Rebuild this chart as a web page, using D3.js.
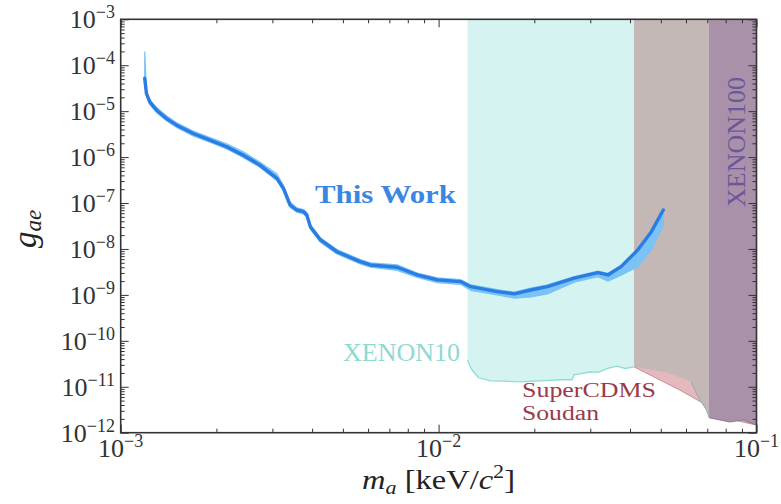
<!DOCTYPE html>
<html>
<head>
<meta charset="utf-8">
<script src="https://cdn.jsdelivr.net/npm/d3@7"></script>
<style>
  html, body { margin: 0; padding: 0; background: #fff; }
  svg { display: block; }
</style>
</head>
<body>
<svg id="chart" width="781" height="504"></svg>
<script>
// ---------------- data ----------------
// "This Work" limit curve
const massThisWork = [1.19e-3, 1.205e-3, 1.234e-3, 1.297e-3, 1.393e-3, 1.50e-3, 1.69e-3, 1.91e-3, 2.155e-3, 2.43e-3,
  2.74e-3, 3.10e-3, 3.25e-3, 3.41e-3, 3.58e-3, 3.76e-3, 3.85e-3, 3.95e-3, 4.25e-3, 4.79e-3,
  5.67e-3, 6.10e-3, 7.41e-3, 8.57e-3, 9.91e-3, 1.173e-2, 1.262e-2, 1.53e-2, 1.73e-2, 1.95e-2,
  2.20e-2, 2.67e-2, 3.17e-2, 3.41e-2, 3.75e-2, 4.23e-2, 4.67e-2, 5.09e-2];
const gThisWork = [5.2e-5, 2.43e-5, 1.59e-5, 1.05e-5, 6.9e-6, 4.96e-6, 3.27e-6, 2.34e-6, 1.68e-6, 1.10e-6,
  6.7e-7, 3.44e-7, 2.09e-7, 9.06e-8, 7.05e-8, 6.47e-8, 5.48e-8, 3.05e-8, 1.57e-8, 8.7e-9,
  5.3e-9, 4.49e-9, 4.0e-9, 2.72e-9, 2.12e-9, 1.95e-9, 1.51e-9, 1.18e-9, 1.05e-9, 1.28e-9,
  1.51e-9, 2.31e-9, 3.05e-9, 2.72e-9, 4.12e-9, 9.5e-9, 2.38e-8, 7.05e-8];
const gBandLow = [5.2e-5, 2.2e-5, 1.4e-5, 9.3e-6, 6.2e-6, 4.4e-6, 2.9e-6, 2.1e-6, 1.5e-6, 9.8e-7,
  6.0e-7, 3.1e-7, 1.85e-7, 8.0e-8, 6.3e-8, 5.8e-8, 4.9e-8, 2.7e-8, 1.4e-8, 7.8e-9,
  4.7e-9, 4.0e-9, 3.4e-9, 2.4e-9, 1.85e-9, 1.7e-9, 1.25e-9, 1.0e-9, 8.5e-10, 9.0e-10,
  1.05e-9, 1.9e-9, 2.5e-9, 2.0e-9, 2.7e-9, 4.1e-9, 9.5e-9, 3.3e-8];
const gBandHigh = [2.0e-4, 2.7e-5, 1.75e-5, 1.2e-5, 8.0e-6, 5.6e-6, 3.7e-6, 2.65e-6, 1.95e-6, 1.3e-6,
  7.8e-7, 4.3e-7, 2.4e-7, 1.05e-7, 7.9e-8, 7.2e-8, 6.2e-8, 3.4e-8, 1.75e-8, 9.7e-9,
  5.9e-9, 5.0e-9, 4.5e-9, 3.0e-9, 2.35e-9, 2.15e-9, 1.65e-9, 1.3e-9, 1.15e-9, 1.4e-9,
  1.65e-9, 2.5e-9, 3.3e-9, 2.95e-9, 4.4e-9, 1.0e-8, 2.5e-8, 7.5e-8];

// XENON10 excluded region (lower boundary)
const massXenon10 = [0.01234, 0.01253, 0.01280, 0.01336, 0.01458, 0.01815, 0.02427, 0.0263, 0.02667, 0.0302, 0.0318, 0.0340, 0.0364, 0.0386, 0.0412];
const gXenon10 = [3.86e-11, 2.86e-11, 2.23e-11, 1.57e-11, 1.35e-11, 1.28e-11, 1.42e-11, 1.42e-11, 1.82e-11, 2.12e-11, 2.05e-11, 2.5e-11, 2.8e-11, 2.5e-11, 2.72e-11];

// SuperCDMS Soudan (pink lower edge)
const massCDMSEdge = [0.0412, 0.0579, 0.0815, 0.0897, 0.1];
const gCDMSEdge = [2.72e-11, 8.2e-12, 2.12e-12, 1.73e-12, 1.47e-12];

// grey region (upper part of SuperCDMS Soudan)
const massCDMS = [0.0412, 0.0527, 0.0623, 0.0655, 0.0696, 0.0711];
const gCDMS = [2.72e-11, 2.01e-11, 1.29e-11, 6.07e-12, 3.16e-12, 2.12e-12];

// XENON100 excluded region
const massXenon100 = [0.0709, 0.0825, 0.0907, 0.1];
const gXenon100 = [2.12e-12, 1.71e-12, 1.89e-12, 1.47e-12];

// axis ticks
const xTickExponents = [-3, -2, -1];
const yTickExponents = [-12, -11, -10, -9, -8, -7, -6, -5, -4, -3];

// ---------------- drawing ----------------
const FONT = "Liberation Serif";
const svg = d3.select("#chart");
const pLeft = 120.7, pRight = 756.5, pTop = 19.3, pBottom = 432.7;
const x = d3.scaleLog().domain([1e-3, 1e-1]).range([pLeft, pRight]);
const y = d3.scaleLog().domain([1e-12, 1e-3]).range([pBottom, pTop]);
const gTop = 1e-3;

function zipPts(ms, gs) { return ms.map((m, i) => ({ m: m, g: gs[i] })); }

const regionArea = d3.area().x(d => x(d.m)).y0(y(gTop)).y1(d => y(d.g));
const edgeLine = d3.line().x(d => x(d.m)).y(d => y(d.g));

const gReg = svg.append("g");
// XENON10
gReg.append("path").attr("d", regionArea(zipPts(massXenon10, gXenon10)))
  .attr("fill", "#d4f3f1");
gReg.append("path").attr("d", edgeLine(zipPts(massXenon10, gXenon10)))
  .attr("fill", "none").attr("stroke", "#92dcd5").attr("stroke-width", 1.3);
// SuperCDMS pink
gReg.append("path").attr("d", regionArea(zipPts(massCDMSEdge, gCDMSEdge)))
  .attr("fill", "#e5b8be");
gReg.append("path").attr("d", edgeLine(zipPts(massCDMSEdge, gCDMSEdge)))
  .attr("fill", "none").attr("stroke", "#c98e98").attr("stroke-width", 1);
// grey
gReg.append("path").attr("d", regionArea(zipPts(massCDMS, gCDMS)))
  .attr("fill", "#c3b8b6");
gReg.append("path").attr("d", edgeLine(zipPts(massCDMS, gCDMS).slice(2)))
  .attr("fill", "none").attr("stroke", "#9fb0b6").attr("stroke-width", 1.3);
// XENON100
gReg.append("path").attr("d", regionArea(zipPts(massXenon100, gXenon100)))
  .attr("fill", "#a891a9");
gReg.append("path").attr("d", edgeLine(zipPts(massXenon100, gXenon100)))
  .attr("fill", "none").attr("stroke", "#8a7a95").attr("stroke-width", 1);

// This Work band + line
const band = d3.area().x(d => x(d.m)).y0(d => y(d.lo)).y1(d => y(d.hi));
const bandPts = massThisWork.map((m, i) => ({ m: m, lo: gBandLow[i], hi: gBandHigh[i] }));
svg.append("path").attr("d", band(bandPts))
  .attr("fill", "#79c3f6").attr("stroke", "#79c3f6").attr("stroke-width", 1.2);
svg.append("path").attr("d", edgeLine(zipPts(massThisWork, gThisWork)))
  .attr("fill", "none").attr("stroke", "#2a7de3").attr("stroke-width", 3.4)
  .attr("stroke-linejoin", "round").attr("stroke-linecap", "round");

// labels
function label(xp, yp, str, size, col, len, extra) {
  const t = svg.append("text").attr("x", xp).attr("y", yp).text(str)
    .style("font-family", FONT).attr("font-size", size).attr("fill", col)
    .attr("textLength", len).attr("lengthAdjust", "spacingAndGlyphs");
  if (extra) extra(t);
  return t;
}
label(315, 203, "This Work", 26, "#3b86e3", 141, t => t.attr("font-weight", "bold"));
label(343, 361, "XENON10", 25, "#8fd9d3", 117);
label(522, 397, "SuperCDMS", 20, "#9b3a4a", 134);
label(522, 419.5, "Soudan", 20, "#9b3a4a", 77);
label(0, 0, "XENON100", 25, "#6b579b", 130, t => t.attr("transform", "translate(745,207) rotate(-90)"));

// axes ticks (inward, all four sides)
function logMinor(e0, e1) {
  const out = [];
  for (let e = e0; e < e1; e++) for (let k = 2; k <= 9; k++) out.push(k * Math.pow(10, e));
  return out;
}
const xMajor = xTickExponents.map(e => Math.pow(10, e));
const yMajor = yTickExponents.map(e => Math.pow(10, e));
const xMinor = logMinor(-3, -1);
const yMinor = logMinor(-12, -3);

function addAxis(axisGen, scale, vals, size, tx, ty) {
  const g = svg.append("g").attr("transform", `translate(${tx},${ty})`)
    .call(axisGen(scale).tickValues(vals).tickSize(-size).tickFormat(""));
  g.select(".domain").remove();
  g.selectAll("line").attr("stroke", "#333").attr("stroke-width", 1);
}
addAxis(d3.axisBottom, x, xMajor, 8, 0, pBottom);
addAxis(d3.axisBottom, x, xMinor, 4, 0, pBottom);
addAxis(d3.axisTop, x, xMajor, 8, 0, pTop);
addAxis(d3.axisTop, x, xMinor, 4, 0, pTop);
addAxis(d3.axisLeft, y, yMajor, 8, pLeft, 0);
addAxis(d3.axisLeft, y, yMinor, 4, pLeft, 0);
addAxis(d3.axisRight, y, yMajor, 8, pRight, 0);
addAxis(d3.axisRight, y, yMinor, 4, pRight, 0);

svg.append("rect").attr("x", pLeft).attr("y", pTop)
  .attr("width", pRight - pLeft).attr("height", pBottom - pTop)
  .attr("fill", "none").attr("stroke", "#333").attr("stroke-width", 1.6);

// tick labels
const tickCol = "#333";
yTickExponents.forEach(e => {
  const t = svg.append("text").attr("x", 115).attr("y", y(Math.pow(10, e)) + 9)
    .attr("text-anchor", "end").attr("fill", tickCol).attr("font-size", 26).style("font-family", FONT);
  t.append("tspan").text("10");
  t.append("tspan").attr("dy", -10).attr("font-size", 18).text("\u2212" + Math.abs(e));
});
xTickExponents.forEach(e => {
  const t = svg.append("text").attr("x", x(Math.pow(10, e))).attr("y", 457)
    .attr("text-anchor", "middle").attr("fill", tickCol).attr("font-size", 26).style("font-family", FONT);
  t.append("tspan").text("10");
  t.append("tspan").attr("dy", -10).attr("font-size", 18).text("\u2212" + Math.abs(e));
});

// axis titles
const xt = svg.append("text").attr("x", 362).attr("y", 489)
  .attr("font-size", 28).attr("fill", "#222").style("font-family", FONT)
  .attr("textLength", 153).attr("lengthAdjust", "spacingAndGlyphs");
xt.append("tspan").attr("font-style", "italic").text("m");
xt.append("tspan").attr("font-style", "italic").attr("font-size", 19).attr("dy", 5).text("a");
xt.append("tspan").attr("dy", -5).text(" [keV/");
xt.append("tspan").attr("font-style", "italic").text("c");
xt.append("tspan").attr("font-size", 19).attr("dy", -11).text("2");
xt.append("tspan").attr("dy", 11).text("]");

const yt = svg.append("text").attr("transform", "translate(36,229) rotate(-90)")
  .attr("text-anchor", "middle").attr("font-size", 33).attr("fill", "#222").style("font-family", FONT);
yt.append("tspan").attr("font-style", "italic").text("g");
yt.append("tspan").attr("font-style", "italic").attr("font-size", 23).attr("dy", 5).text("ae");
</script>
</body>
</html>
